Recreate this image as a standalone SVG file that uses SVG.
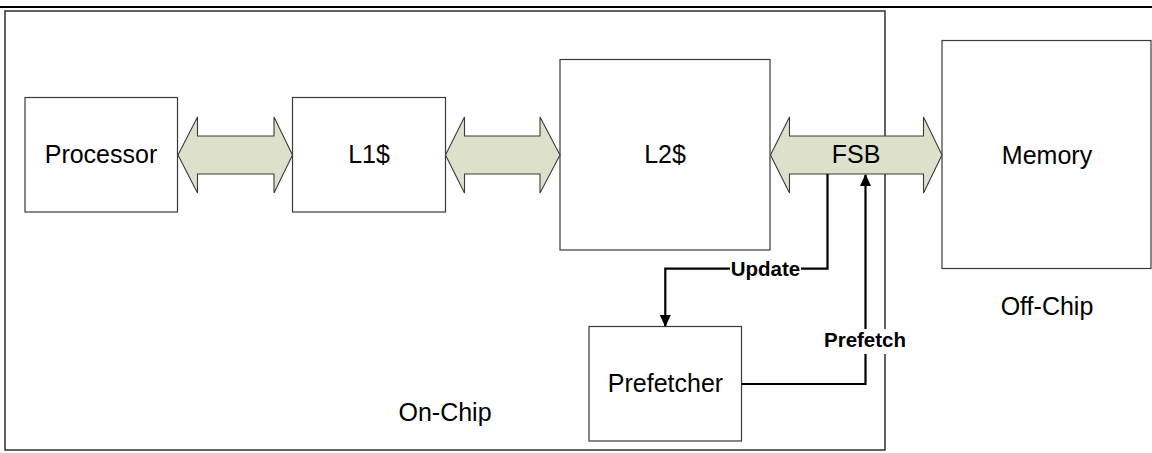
<svg xmlns="http://www.w3.org/2000/svg" width="1152" height="453" viewBox="0 0 1152 453">
  <style>
    .box { fill: #ffffff; stroke: #3a3a3a; stroke-width: 1.2; }
    .region { fill: none; stroke: #222222; stroke-width: 1.4; }
    .bus { fill: #dde1cb; stroke: #3a3a3a; stroke-width: 1.1; stroke-linejoin: miter; }
    .label { font-family: "Liberation Sans", Arial, sans-serif; font-size: 25px; fill: #000000; text-anchor: middle; }
    .wire { fill: none; stroke: #000000; stroke-width: 2.2; }
    .tag { font-family: "Liberation Sans", Arial, sans-serif; font-size: 20.5px; font-weight: bold; fill: #000000; text-anchor: middle; }
    .tagbg { fill: #ffffff; stroke: none; }
  </style>
  <defs>
    <marker id="head" viewBox="0 0 12 12" refX="11" refY="6" markerWidth="12" markerHeight="12" markerUnits="userSpaceOnUse" orient="auto">
      <path d="M0,0.5 L12,6 L0,11.5 Z" fill="#000000"/>
    </marker>
  </defs>
  <rect width="1152" height="453" fill="#ffffff"/>

  <!-- page rule -->
  <line x1="0" y1="7" x2="1152" y2="7" stroke="#000000" stroke-width="2"/>

  <!-- on-chip region -->
  <g id="on-chip">
    <rect class="region" x="5" y="11" width="880" height="439"/>
    <text class="label" x="445" y="421">On-Chip</text>
  </g>

  <g id="processor">
    <rect class="box" x="25" y="97.5" width="152.5" height="114.5"/>
    <text class="label" x="101" y="163">Processor</text>
  </g>

  <g id="l1">
    <rect class="box" x="292.5" y="97.5" width="153" height="114.5"/>
    <text class="label" x="369" y="163">L1$</text>
  </g>

  <g id="l2">
    <rect class="box" x="560" y="59.5" width="210" height="190.5"/>
    <text class="label" x="665" y="163">L2$</text>
  </g>

  <g id="prefetcher">
    <rect class="box" x="589" y="326.5" width="152.5" height="114.5"/>
    <text class="label" x="665.5" y="392">Prefetcher</text>
  </g>

  <g id="memory">
    <rect class="box" x="942" y="40.5" width="209" height="228"/>
    <text class="label" x="1047" y="164">Memory</text>
    <text class="label" x="1047" y="315">Off-Chip</text>
  </g>

  <g id="connectors">
    <!-- block bus arrows -->
    <polygon class="bus" points="178,155 197.5,117 197.5,136 274,136 274,117 292.5,155 274,193 274,174 197.5,174 197.5,193"/>
    <polygon class="bus" points="445.5,155 464.5,117 464.5,136 540,136 540,117 560,155 540,193 540,174 464.5,174 464.5,193"/>
    <g id="fsb">
      <polygon class="bus" points="770.5,155 789.5,117 789.5,136 923.5,136 923.5,117 942,155 923.5,193 923.5,174 789.5,174 789.5,193"/>
      <text class="label" x="856" y="163">FSB</text>
    </g>

    <!-- update path: FSB to prefetcher -->
    <polyline class="wire" points="827.5,174 827.5,268.7 665.3,268.7 665.3,326" marker-end="url(#head)"/>
    <rect class="tagbg" x="730" y="259" width="71" height="20"/>
    <text class="tag" x="765.5" y="276">Update</text>

    <!-- prefetch path: prefetcher to FSB -->
    <polyline class="wire" points="741.5,384 865.5,384 865.5,175" marker-end="url(#head)"/>
    <rect class="tagbg" x="822" y="329" width="86" height="25"/>
    <text class="tag" x="865" y="347">Prefetch</text>
  </g>
</svg>
